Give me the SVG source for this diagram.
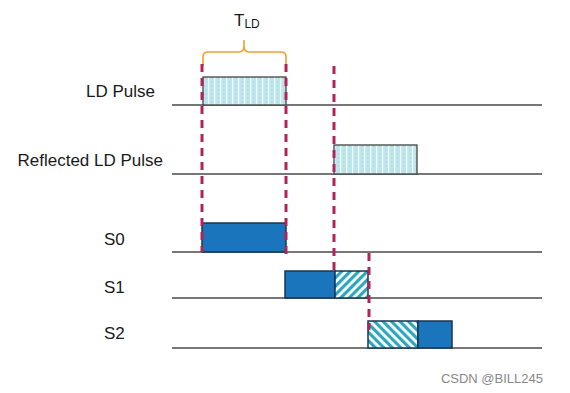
<svg xmlns="http://www.w3.org/2000/svg" width="570" height="393" viewBox="0 0 570 393">
<defs>
<pattern id="dots" width="6" height="4" patternUnits="userSpaceOnUse">
<rect width="6" height="4" fill="#bfe6ec"/>
<rect x="4" width="1.2" height="4" fill="#f2fbfc"/>
<circle cx="2" cy="2" r="0.6" fill="#8fd0da"/>
</pattern>
<pattern id="hatchF" width="6" height="6" patternUnits="userSpaceOnUse" patternTransform="rotate(45)">
<rect width="6" height="6" fill="#ffffff"/>
<rect width="3.2" height="6" fill="#2ea7ba"/>
</pattern>
<pattern id="hatchB" width="6" height="6" patternUnits="userSpaceOnUse" patternTransform="rotate(-45)">
<rect width="6" height="6" fill="#ffffff"/>
<rect width="3.2" height="6" fill="#2ea7ba"/>
</pattern>
<style>
.lbl{font-family:"Liberation Sans",Arial,sans-serif;font-size:17px;fill:#1a1a1a;}
.base{stroke:#4a4a4a;stroke-width:1.7;fill:none;}
.dash{stroke:#b0245a;stroke-width:3;stroke-dasharray:8 6;fill:none;}
.blue{fill:#1b75bc;stroke:#1a3550;stroke-width:1.5;}
.lt{stroke:#444;stroke-width:1.3;}
.hat{stroke:#1a3550;stroke-width:1.5;}
</style>
</defs>
<rect width="570" height="393" fill="#ffffff"/>
<g id="baselines">
<line class="base" x1="172" y1="105" x2="542" y2="105"/>
<line class="base" x1="172" y1="174" x2="542" y2="174"/>
<line class="base" x1="172" y1="252" x2="542" y2="252"/>
<line class="base" x1="172" y1="298" x2="542" y2="298"/>
<line class="base" x1="172" y1="348" x2="542" y2="348"/>
</g>
<g id="labels">
<text class="lbl" x="155" y="97" text-anchor="end">LD Pulse</text>
<text class="lbl" x="163" y="166" text-anchor="end">Reflected LD Pulse</text>
<text class="lbl" x="104" y="245">S0</text>
<text class="lbl" x="104" y="293">S1</text>
<text class="lbl" x="104" y="339">S2</text>
</g>
<g id="tld">
<path d="M203,66 V57 Q203,52 208,52 H239 Q244,52 244,46 V40 M244,46 Q244,52 249,52 H281 Q286,52 286,57 V66" fill="none" stroke="#f0a030" stroke-width="1.6"/>
<text x="234" y="26" font-family="Liberation Sans,Arial,sans-serif" font-size="17" fill="#1a1a1a">T<tspan font-size="12" dy="2">LD</tspan></text>
</g>
<g id="ld-pulse"><rect x="203" y="77" width="83" height="28" fill="url(#dots)" class="lt"/></g>
<g id="reflected"><rect x="334" y="145" width="83" height="29" fill="url(#dots)" class="lt"/></g>
<g id="s0"><rect x="202" y="223" width="84" height="29" class="blue"/></g>
<g id="s1">
<rect x="285" y="271" width="50" height="27" class="blue"/>
<rect x="335" y="271" width="33" height="27" fill="url(#hatchF)" class="hat"/>
</g>
<g id="s2">
<rect x="368" y="321" width="50" height="27" fill="url(#hatchB)" class="hat"/>
<rect x="418" y="321" width="34" height="27" class="blue"/>
</g>
<g id="connectors">
<line class="dash" x1="202" y1="64" x2="202" y2="252"/>
<line class="dash" x1="286" y1="64" x2="286" y2="258"/>
<line class="dash" x1="334" y1="66" x2="334" y2="272"/>
<line class="dash" x1="369" y1="253" x2="369" y2="330"/>
</g>
<text x="543" y="383" text-anchor="end" font-family="Liberation Sans,Arial,sans-serif" font-size="13" fill="#888">CSDN @BILL245</text>
</svg>
